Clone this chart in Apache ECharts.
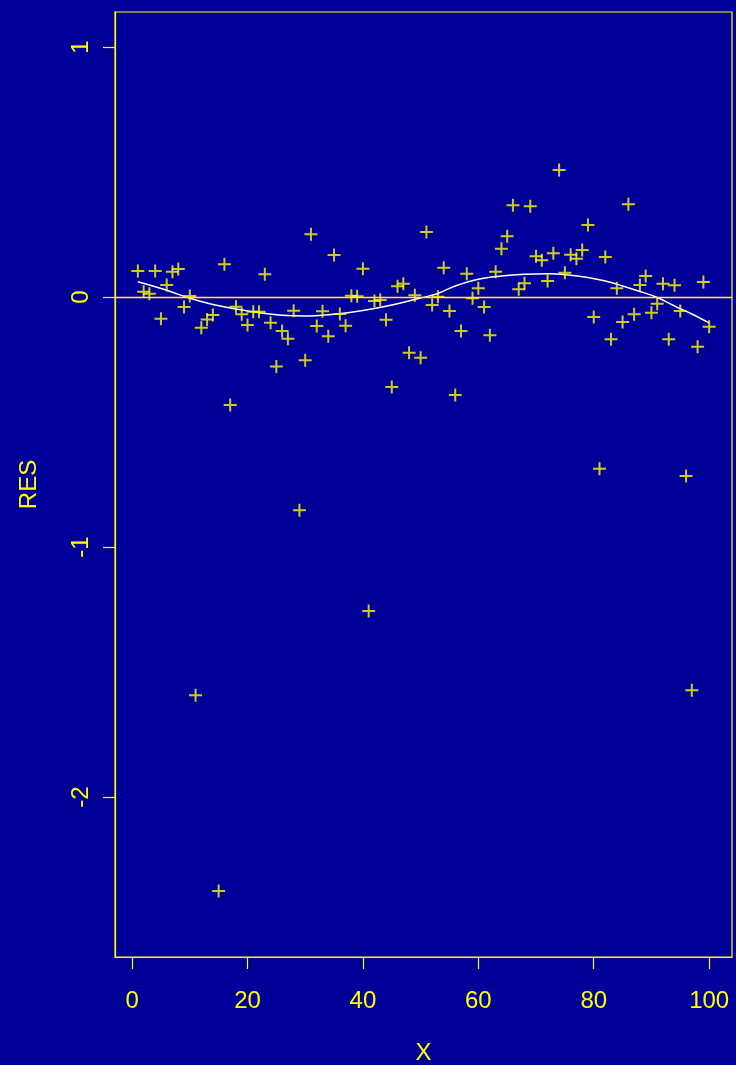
<!DOCTYPE html>
<html>
<head>
<meta charset="utf-8">
<title>RES vs X</title>
<script src="https://cdn.jsdelivr.net/npm/echarts@6/dist/echarts.min.js"></script>
<style>
  html, body { margin: 0; padding: 0; background: #000099; }
  #chart { width: 736px; height: 1065px; }
</style>
</head>
<body>
<div id="chart"></div>
<script>
// Observation index
const xValues = [
  1, 2, 3, 4, 5, 6, 7, 8, 9, 10,
  11, 12, 13, 14, 15, 16, 17, 18, 19, 20,
  21, 22, 23, 24, 25, 26, 27, 28, 29, 30,
  31, 32, 33, 34, 35, 36, 37, 38, 39, 40,
  41, 42, 43, 44, 45, 46, 47, 48, 49, 50,
  51, 52, 53, 54, 55, 56, 57, 58, 59, 60,
  61, 62, 63, 64, 65, 66, 67, 68, 69, 70,
  71, 72, 73, 74, 75, 76, 77, 78, 79, 80,
  81, 82, 83, 84, 85, 86, 87, 88, 89, 90,
  91, 92, 93, 94, 95, 96, 97, 98, 99, 100
];

// Residuals
const resValues = [
  0.104, 0.021, 0.013, 0.104, -0.087, 0.048, 0.101, 0.112, -0.040, 0.004,
  -1.593, -0.123, -0.090, -0.072, -2.376, 0.131, -0.432, -0.039, -0.069, -0.112,
  -0.059, -0.059, 0.091, -0.103, -0.278, -0.136, -0.167, -0.055, -0.853, -0.253,
  0.251, -0.116, -0.057, -0.157, 0.168, -0.068, -0.115, 0.005, 0.003, 0.113,
  -1.256, -0.016, -0.012, -0.091, -0.360, 0.043, 0.053, -0.223, 0.007, -0.243,
  0.260, -0.032, 0.001, 0.117, -0.056, -0.392, -0.136, 0.093, -0.005, 0.035,
  -0.040, -0.153, 0.101, 0.193, 0.243, 0.367, 0.031, 0.055, 0.363, 0.163,
  0.147, 0.064, 0.175, 0.508, 0.097, 0.169, 0.153, 0.188, 0.288, -0.080,
  -0.687, 0.160, -0.169, 0.035, -0.100, 0.371, -0.069, 0.048, 0.084, -0.063,
  -0.027, 0.053, -0.169, 0.047, -0.056, -0.716, -1.573, -0.199, 0.060, -0.119
];

// Smoothed trend through the residuals
const smoothX = [1, 6, 10, 14, 18, 22, 26, 30, 34, 38, 42, 46, 50, 53, 56, 60, 64, 68, 72, 76, 79, 82, 85, 88, 91, 94, 97, 100];
const smoothY = [0.061, 0.027, -0.005, -0.030, -0.048, -0.063, -0.073, -0.076, -0.071, -0.061, -0.046, -0.027, -0.004, 0.014, 0.044, 0.071, 0.084, 0.091, 0.093, 0.087, 0.078, 0.064, 0.044, 0.022, -0.002, -0.036, -0.068, -0.104];

// Axis ticks
const xTicks = [0, 20, 40, 60, 80, 100];
const yTicks = [-2, -1, 0, 1];

const FG = '#ffff00';
const FONT = "'Liberation Sans', Arial, Helvetica, sans-serif";

const points = xValues.map((x, i) => [x, resValues[i]]);
const smooth = smoothX.map((x, i) => [x, smoothY[i]]);

const chart = echarts.init(document.getElementById('chart'), null, { renderer: 'canvas' });

chart.setOption({
  backgroundColor: '#000099',
  animation: false,
  grid: {
    left: 115, right: 4, top: 12, bottom: 108,
    outerBoundsMode: 'none',
    containLabel: false,
    show: true,
    borderColor: FG,
    borderWidth: 1.2,
    backgroundColor: 'transparent'
  },
  xAxis: {
    type: 'value',
    min: -2.96,
    max: 103.96,
    name: 'X',
    nameLocation: 'middle',
    nameGap: 84,
    nameTextStyle: { color: FG, fontSize: 24, fontFamily: FONT },
    axisLine: { show: true, onZero: false, lineStyle: { color: FG, width: 1.2 } },
    axisTick: { show: true, length: 12, customValues: xTicks, lineStyle: { color: FG, width: 1.2 } },
    axisLabel: { customValues: xTicks, color: FG, fontSize: 24, fontFamily: FONT, margin: 32 },
    splitLine: { show: false }
  },
  yAxis: {
    type: 'value',
    min: -2.64,
    max: 1.14,
    name: 'RES',
    nameLocation: 'middle',
    nameGap: 74,
    nameRotate: 90,
    nameTextStyle: { color: FG, fontSize: 24, fontFamily: FONT },
    axisLine: { show: true, onZero: false, lineStyle: { color: FG, width: 1.2 } },
    axisTick: { show: true, length: 12, customValues: yTicks, lineStyle: { color: FG, width: 1.2 } },
    axisLabel: { customValues: yTicks, color: FG, fontSize: 24, fontFamily: FONT, rotate: 90, margin: 22 },
    splitLine: { show: false }
  },
  series: [
    {
      type: 'line',
      data: smooth,
      smooth: 0.4,
      showSymbol: false,
      lineStyle: { color: '#ffffff', width: 1.4 },
      silent: true,
      z: 2,
      markLine: {
        silent: true,
        symbol: ['none', 'none'],
        label: { show: false },
        lineStyle: { color: FG, width: 1.4, type: 'solid' },
        data: [{ yAxis: 0 }]
      }
    },
    {
      type: 'scatter',
      data: points,
      symbol: 'path://M0,6H12M6,0V12',
      symbolSize: 13,
      itemStyle: { color: 'transparent', borderColor: FG, borderWidth: 2 },
      silent: true,
      z: 3
    }
  ]
});
</script>
</body>
</html>
